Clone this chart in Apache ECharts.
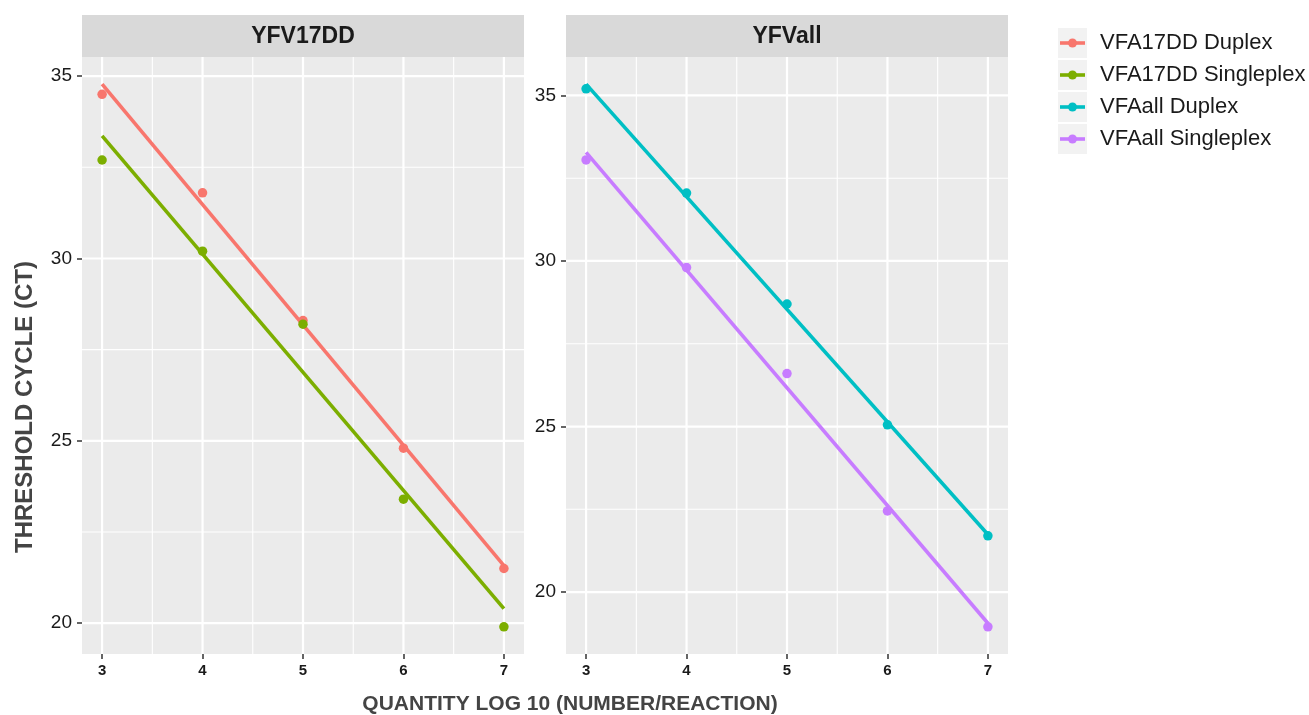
<!DOCTYPE html>
<html>
<head>
<meta charset="utf-8">
<script src="https://cdn.jsdelivr.net/npm/echarts@6/dist/echarts.min.js"></script>
<style>
  html, body { margin: 0; padding: 0; background: #ffffff; }
  #chart { width: 1309px; height: 715px; }
</style>
</head>
<body>
<div id="chart"></div>
<script>
// ---- data ----
const xValues = [3, 4, 5, 6, 7];
const panelTitles = ['YFV17DD', 'YFVall'];
const seriesNames = ['VFA17DD Duplex', 'VFA17DD Singleplex', 'VFAall Duplex', 'VFAall Singleplex'];
const seriesPanel = [0, 0, 1, 1];
const vfa17ddDuplex = [34.5, 31.8, 28.3, 24.8, 21.5];
const vfa17ddSingleplex = [32.7, 30.2, 28.2, 23.4, 19.9];
const vfaAllDuplex = [35.2, 32.05, 28.7, 25.05, 21.7];
const vfaAllSingleplex = [33.05, 29.8, 26.6, 22.45, 18.95];
const xTickLabels = [3, 4, 5, 6, 7];
const xMinorBreaks = [3.5, 4.5, 5.5, 6.5];
const yTickLabels = [20, 25, 30, 35];
const yMinorBreaks = [22.5, 27.5, 32.5];
const xTitle = 'QUANTITY LOG 10 (NUMBER/REACTION)';
const yTitle = 'THRESHOLD CYCLE (CT)';

const seriesValues = [vfa17ddDuplex, vfa17ddSingleplex, vfaAllDuplex, vfaAllSingleplex];
const colors = ['#F8766D', '#7CAE00', '#00BFC4', '#C77CFF'];
const FONT = "'Liberation Sans', Arial, Helvetica, sans-serif";

// least-squares fit (geom_smooth method = lm)
function linFit(xs, ys) {
  const n = xs.length;
  const mx = xs.reduce((a, b) => a + b, 0) / n;
  const my = ys.reduce((a, b) => a + b, 0) / n;
  let sxy = 0, sxx = 0;
  for (let i = 0; i < n; i++) { sxy += (xs[i] - mx) * (ys[i] - my); sxx += (xs[i] - mx) * (xs[i] - mx); }
  const b = sxy / sxx, a = my - b * mx;
  const x0 = Math.min(...xs), x1 = Math.max(...xs);
  return [[x0, a + b * x0], [x1, a + b * x1]];
}
const fits = seriesValues.map(v => linFit(xValues, v));

// ggplot-like 5% expansion of each panel's y range
function yRange(p) {
  let lo = Infinity, hi = -Infinity;
  seriesValues.forEach((v, i) => {
    if (seriesPanel[i] !== p) return;
    v.concat(fits[i].map(d => d[1])).forEach(y => { lo = Math.min(lo, y); hi = Math.max(hi, y); });
  });
  const e = (hi - lo) * 0.05;
  return [lo - e, hi + e];
}
const xMin = 3 - 0.05 * 4, xMax = 7 + 0.05 * 4;
const yRanges = [yRange(0), yRange(1)];

const grids = [
  { left: 82, top: 57, width: 442, height: 597 },
  { left: 566, top: 57, width: 442, height: 597 }
];

const option = {
  animation: false,
  backgroundColor: '#ffffff',
  grid: grids.map(g => Object.assign({ show: true, backgroundColor: '#EBEBEB', borderWidth: 0, containLabel: false }, g)),
  xAxis: [0, 1].map(p => ({
    type: 'value', gridIndex: p, min: xMin, max: xMax,
    axisLine: { show: false },
    axisTick: { show: true, customValues: xTickLabels, length: 5, lineStyle: { color: '#333333', width: 1.5 } },
    axisLabel: { customValues: xTickLabels, margin: 9, fontSize: 15, fontWeight: 'bold', color: '#1A1A1A', fontFamily: FONT },
    splitLine: { show: false }
  })),
  yAxis: [0, 1].map(p => ({
    type: 'value', gridIndex: p, min: yRanges[p][0], max: yRanges[p][1],
    axisLine: { show: false },
    axisTick: { show: true, customValues: yTickLabels, length: 5, lineStyle: { color: '#333333', width: 1.5 } },
    axisLabel: { customValues: yTickLabels, margin: 10, fontSize: 19, color: '#1A1A1A', fontFamily: FONT },
    splitLine: { show: false }
  })),
  series: [],
  graphic: []
};

// gridlines (major + minor) as line series beneath the data
function gridSeries(p, pts, width) {
  return {
    type: 'line', xAxisIndex: p, yAxisIndex: p, z: 1, silent: true,
    data: pts, showSymbol: false, symbol: 'none',
    lineStyle: { color: '#ffffff', width: width }, emphasis: { disabled: true }, tooltip: { show: false }
  };
}
[0, 1].forEach(p => {
  const [y0, y1] = yRanges[p];
  xMinorBreaks.forEach(v => option.series.push(gridSeries(p, [[v, y0], [v, y1]], 1.1)));
  yMinorBreaks.forEach(v => option.series.push(gridSeries(p, [[xMin, v], [xMax, v]], 1.1)));
  xTickLabels.forEach(v => option.series.push(gridSeries(p, [[v, y0], [v, y1]], 2.2)));
  yTickLabels.forEach(v => option.series.push(gridSeries(p, [[xMin, v], [xMax, v]], 2.2)));
});

// fitted lines and points
seriesNames.forEach((name, i) => {
  const p = seriesPanel[i];
  option.series.push({
    name: name, type: 'line', xAxisIndex: p, yAxisIndex: p, z: 2,
    data: fits[i], showSymbol: false, symbol: 'none',
    lineStyle: { color: colors[i], width: 3.6 }, itemStyle: { color: colors[i] }
  });
  option.series.push({
    name: name, type: 'scatter', xAxisIndex: p, yAxisIndex: p, z: 3,
    data: xValues.map((x, k) => [x, seriesValues[i][k]]),
    symbol: 'circle', symbolSize: 9.5, itemStyle: { color: colors[i], opacity: 1 }
  });
});

// facet strips
panelTitles.forEach((t, p) => {
  const g = grids[p];
  option.graphic.push({ type: 'rect', silent: true, shape: { x: g.left, y: 15, width: g.width, height: 42 }, style: { fill: '#D9D9D9' } });
  option.graphic.push({ type: 'text', silent: true, x: g.left + g.width / 2, y: 37,
    style: { text: t, font: 'bold 23px ' + FONT, fill: '#1A1A1A', align: 'center', verticalAlign: 'middle', textAlign: 'center', textVerticalAlign: 'middle' } });
});

// axis titles
option.graphic.push({ type: 'text', silent: true, x: 570, y: 704,
  style: { text: xTitle, font: 'bold 21px ' + FONT, fill: '#444444', align: 'center', verticalAlign: 'middle', textAlign: 'center', textVerticalAlign: 'middle' } });
option.graphic.push({ type: 'text', silent: true, x: 25, y: 407, rotation: Math.PI / 2,
  style: { text: yTitle, font: 'bold 24px ' + FONT, fill: '#444444', align: 'center', verticalAlign: 'middle', textAlign: 'center', textVerticalAlign: 'middle' } });

// legend (ggplot style keys)
seriesNames.forEach((name, i) => {
  const cy = 43 + i * 32;
  option.graphic.push({ type: 'rect', silent: true, shape: { x: 1058, y: cy - 15, width: 29, height: 30 }, style: { fill: '#F2F2F2' } });
  option.graphic.push({ type: 'line', silent: true, shape: { x1: 1060, y1: cy, x2: 1085, y2: cy }, style: { stroke: colors[i], lineWidth: 3.6 } });
  option.graphic.push({ type: 'circle', silent: true, shape: { cx: 1072.5, cy: cy, r: 4.5 }, style: { fill: colors[i] } });
  option.graphic.push({ type: 'text', silent: true, x: 1100, y: cy,
    style: { text: name, font: '22px ' + FONT, fill: '#1A1A1A', align: 'left', verticalAlign: 'middle', textAlign: 'left', textVerticalAlign: 'middle' } });
});

const chart = echarts.init(document.getElementById('chart'), null, { renderer: 'canvas' });
chart.setOption(option);
</script>
</body>
</html>
